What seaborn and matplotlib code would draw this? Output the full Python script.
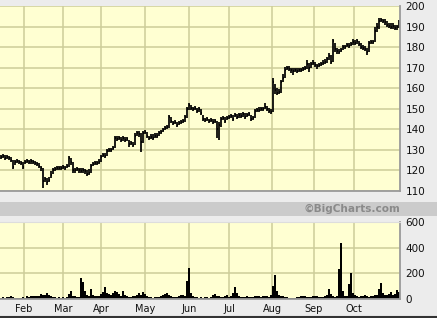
import matplotlib
matplotlib.use("Agg")
import matplotlib.pyplot as plt
import seaborn as sns
import numpy as np
import pandas as pd

# ---------------- data ----------------
closes = [126.5,127,126,126.5,126,125, 121.5, 124,124.5,124,123.5, 121.5, 124,124.5,124,124.5,124,123.5,123,122,
          121, 115, 116, 114.5, 115.5, 118, 120, 120.5,121,121, 121,121.5,121,122, 126, 124, 120,
          120,120.5,120,119.8,120,119.5, 118.5,119, 122,123,123.5,123.5,124, 126.5,127.5,127, 129.5,130,130, 131,
          136,135.5,136,135, 136,135,135.5, 133,133.5,132.5, 137,138,137.5, 134, 138,138.5,137,
          136,136.5,136,137,137, 138,138.5,139.5,140.5, 141, 146, 144,143,143.5,142,143,143.5,144, 146, 150,152,
          150.5,150,150.5, 149,150,148, 145,144.5,145,144,144.5,143.5, 144, 140, 142, 145,145.5,144,145.5,
          146,146.5,145,147,146, 147,146.5,147.5,146,147,147.5, 145,145.5, 149,149.5,149.5,150,150,151,150,149,
          148.5, 163, 159,157.5, 158, 163, 165, 169,170,169.5, 169,168.5,169,168.5,169,169,169.5,170,
          172,170,172,172.5,171.5, 171,171.5,172,172.5,173,174,175.5, 173, 183, 179,178,177.5,178.5,
          180,180,181,180.5,181.5, 182.5,182,183,181.5, 180,179.5,179, 177.5, 182,182.5,182.5, 188, 190,
          192.5,193,192.5,192, 191,190.5,190,190.5,189.5,190,192]
highs = [127.5,128,127.5,127.5,127,126.5, 125, 125,125.5,125,124.5, 124, 125,125.5,125,125.5,125,124.5,124,123.5,
         122, 121, 117, 116.5, 117, 119.5, 121, 121.5,122,122, 122,122.5,122,123, 127, 126, 124,
         121,121.5,121,121,121,120.5, 120,120.5, 123,124,124.5,124.5,125.5, 127.5,128.5,128.5, 130.5,131,131, 132,
         137,137,137,136.5, 137,136.5,136.5, 135,134.5,134, 138,139,139, 138, 139,139.5,138.5,
         137,137.5,137.5,138,138, 139,139.5,140.5,141.5, 142, 147, 146,144,144.5,143.5,144,144.5,145, 147, 151,153,
         152,151,151.5, 150.5,151,150, 147,145.5,146,145,145.5,145, 145, 144, 143.5, 146,146.5,146,146.5,
         147,147.5,147,148,147.5, 148,148,148.5,148,148,148.5, 147,146.5, 150,150.5,151,151,151,153,151.5,150.5,
         150, 165, 162,160, 159.5, 164, 167, 170.5,171,171, 170,170,170,170,170,170,170.5,171,
         173.5,172.5,173,173.5,173, 172,172.5,173,173.5,174,175,177, 176, 184, 182,179.5,179,179.5,
         181,181,182,182,182.5, 184,183.5,184,183, 182,181,180.5, 179.5, 183,183.5,183.5, 190, 191.5,
         194,194,193.5,193.5, 192.5,191.5,191.5,191.5,191,191,193]
lows = [125.5,126,125,125.5,125,124, 120.5, 122.5,123.5,123,122.5, 120.5, 123,123.5,123,123,123,122.5,122,121,
        119.5, 111.5, 114.5, 113, 114.5, 116.5, 118.5, 119.5,120,120, 120,120.5,120,121, 121.5, 122.5, 119,
        119,119.5,119,119,119,118.5, 117.5,118, 119,122,122.5,122.5,123, 124,126.5,126, 127,129,129, 130,
        131,134.5,135,134, 134.5,134,134.5, 131.5,132.5,131.5, 132.5,137,136.5, 129, 133.5,137.5,136,
        135,135.5,135,136,136, 137,137.5,138.5,139.5, 140, 140.5, 143,142,142.5,141,142,142.5,143, 143.5, 145.5,149.5,
        149.5,149,149.5, 148,148.5,147, 144,143.5,144,143,143.5,142.5, 143, 136, 135, 141,144.5,143,144.5,
        145,145.5,144,146,145, 145.5,145.5,146,145,146,146.5, 144,144.5, 145.5,148.5,148.5,149,149,150,149,148,
        147.5, 148.5, 157,156.5, 157, 157.5, 163, 165,169,168.5, 167.5,166.5,168,167.5,168,168,168.5,169,
        169.5,168,170,171.5,170.5, 169.5,170.5,171,171.5,172,172.5,173.5, 172, 173, 177.5,176.5,176.5,177.5,
        178.5,179,180,179.5,180.5, 181,181,181.5,180.5, 179,178.5,178, 176, 177.5,181.5,181.5, 182.5, 187.5,
        189,192,191.5,191, 190,189.5,189,189,188.5,188.5,189.5]
volume = [10,12,10,15,18, 20,15, 8,8,10,10,12,8, 25,15, 20,25,20,22,25, 40,30, 35,50,30, 20,15,12,10,12,
          10,12,10,15, 40, 65, 25,20,15,15, 160, 130, 60, 35, 25, 80, 30,20,20,25, 40,55, 90, 50,40,30,
          45,60,55, 40,25, 65, 30,20,15, 15,20,25,30, 45,35, 55,40, 20,15,12,10, 12,15,15,20, 30,40,45,35,
          20,15,12,15, 25,35,30, 20, 140, 240, 45, 25,15,12,10, 12,10,15,12,10, 15,35,40, 25,20,15,12,
          25,30, 15,20, 50, 95, 45, 20,15,12,15,20,15, 12,15,20,25,20, 15,20,25,20,15, 30, 100, 185, 60,
          30,25,20,15,12, 10,8,8,10,12,15, 20,25,20,15,12, 15,20,25,20,15, 12,15,25,35, 75, 40, 20,15,25,
          230, 435, 60, 25,20, 115, 200, 50, 30,20,15,20, 25,30,20,15, 20,25,30,35, 80, 125, 45, 35,30,40,
          55,30, 40,70,55]
months = ["Feb", "Mar", "Apr", "May", "Jun", "Jul", "Aug", "Sep", "Oct"]
month_start_idx = [11.5, 31, 50, 72, 94, 114, 135.5, 156.5, 176.5]
price_ticks = [110, 120, 130, 140, 150, 160, 170, 180, 190, 200]
volume_ticks = [0, 200, 400, 600]

n = min(len(closes), len(highs), len(lows), len(volume))
idx = np.arange(n)
df = pd.DataFrame({"i": idx, "close": closes[:n], "high": highs[:n], "low": lows[:n], "vol": volume[:n]})

# ---------------- style ----------------
sns.set_style("white")
plt.rcParams["font.family"] = ["DejaVu Sans"]
W, H = 437, 318
BG = "#ececec"
PLOT_BG = "#ffffd2"
GRID = "#cdcd99"
TXT = "#111111"

fig = plt.figure(figsize=(W / 100, H / 100), dpi=100, facecolor=BG)

def px_axes(x0, y0, x1, y1):
    return fig.add_axes([x0 / W, 1 - y1 / H, (x1 - x0) / W, (y1 - y0) / H])

# gray strip with copyright
strip = px_axes(0, 202, 437, 216)
strip.set_facecolor("#cbcbcb")
strip.set_xticks([]); strip.set_yticks([])
for s in strip.spines.values():
    s.set_visible(False)
strip.text(400 / 437, 0.5, "\u00a9BigCharts.com", transform=strip.transAxes, ha="right", va="center",
           fontsize=7.6, fontweight="bold", color="#8a8a8a")

# price panel
ax = px_axes(0, 6, 400, 191)
ax.set_facecolor(PLOT_BG)
ax.vlines(df["i"], df["low"], df["high"], color="black", lw=1.25)
ax.hlines(df["close"], df["i"], df["i"] + 0.6, color="black", lw=1.25)
ax.set_xlim(-0.5, n - 0.5)
ax.set_ylim(110, 200)
ax.set_yticks(price_ticks)
ax.set_xticks(month_start_idx)
ax.set_xticklabels([])
ax.yaxis.tick_right()
ax.tick_params(axis="y", length=0, pad=4, labelsize=7.5, labelcolor=TXT)
ax.tick_params(axis="x", length=0)
ax.grid(True, color=GRID, lw=1.1)
ax.set_axisbelow(True)
for k in ("left", "top"):
    ax.spines[k].set_visible(False)
for k in ("right", "bottom"):
    ax.spines[k].set_color("#9a9a9a")
    ax.spines[k].set_linewidth(1.3)

# volume panel
axv = px_axes(0, 222, 400, 299)
axv.set_facecolor(PLOT_BG)
sns.barplot(data=df, x="i", y="vol", color="black", width=1.0, native_scale=True,
            saturation=1, linewidth=0, ax=axv, errorbar=None)
axv.set_xlim(-0.5, n - 0.5)
axv.set_ylim(0, 600)
axv.set_yticks(volume_ticks)
axv.yaxis.tick_right()
axv.set_xticks(month_start_idx)
axv.set_xticklabels(months)
axv.set_xlabel(""); axv.set_ylabel("")
axv.tick_params(axis="y", length=0, pad=4, labelsize=7.5, labelcolor=TXT)
axv.tick_params(axis="x", length=0, pad=3.5, labelsize=7.0, labelcolor=TXT)
axv.grid(True, color=GRID, lw=1.1)
axv.set_axisbelow(True)
axv.spines["left"].set_visible(False)
axv.spines["top"].set_color("#dddddd")
for k in ("right", "bottom"):
    axv.spines[k].set_color("#9a9a9a")
    axv.spines[k].set_linewidth(1.3)

# bottom dark border line
fig.add_artist(plt.Line2D([0, 1], [0.6 / H, 0.6 / H], transform=fig.transFigure, color="#333333", lw=1.5))

fig.savefig("out.png", dpi=100, facecolor=BG)
